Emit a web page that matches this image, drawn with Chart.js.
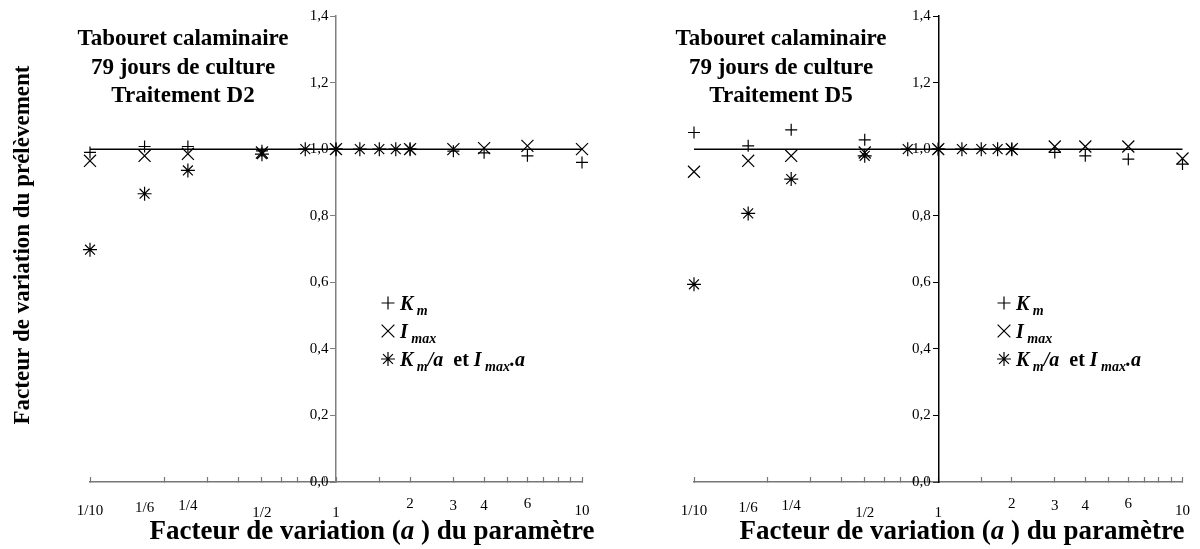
<!DOCTYPE html>
<html>
<head>
<meta charset="utf-8">
<script src="https://cdn.jsdelivr.net/npm/chart.js@4.4.1/dist/chart.umd.min.js"></script>
<style>
  body { margin: 0; background: #fff; }
  #wrap { position: relative; width: 1200px; height: 549px; overflow: hidden; }
  canvas { position: absolute; top: 0; }
</style>
</head>
<body>
<div id="wrap">
  <canvas id="left" width="640" height="549" style="left:0"></canvas>
  <canvas id="right" width="600" height="549" style="left:600px"></canvas>
</div>
<script>
// facteur a
const aMain = [0.1, 1/6, 1/4, 1/2, 1, 2, 3, 4, 6, 10];
const aStar = [0.1, 1/6, 1/4, 1/2, 3/4, 1, 1.25, 1.5, 1.75, 2];

// Traitement D2
const kmD2   = [0.99, 1.008, 1.008, 0.995, 1, 1, 0.994, 0.989, 0.98, 0.96];
const imaxD2 = [0.965, 0.98, 0.986, 0.99, 1, 1, 1.0, 1.003, 1.01, 1.0];
const starD2 = [0.698, 0.866, 0.936, 0.985, 1.0, 1, 1, 1, 1, 1];

// Traitement D5
const kmD5   = [1.05, 1.01, 1.058, 1.028, 1, 1, 0.99, 0.98, 0.97, 0.955];
const imaxD5 = [0.932, 0.965, 0.98, 0.99, 1, 1, 1.008, 1.008, 1.008, 0.972];
const starD5 = [0.594, 0.807, 0.91, 0.98, 1, 1, 1, 1, 1, 1];

// ligne de reference y = 1
const refA = [0.1, 10];
const refY = [1, 1];

// etiquettes de l'axe x
const xLabelVals = [0.1, 1/6, 1/4, 1/2, 1, 2, 3, 4, 6, 10];
const xLabelText = ['1/10', '1/6', '1/4', '1/2', '1', '2', '3', '4', '6', '10'];
const xLabelDrop = [7, 4, 2, 9, 9, 0, 2, 2, 0, 7];   // decalage vertical (px)

const F = '"Liberation Serif", "Times New Roman", serif';

const pts = (xs, ys) => xs.map((x, i) => ({ x: x, y: ys[i] }));
const labelIndex = v => xLabelVals.findIndex(t => Math.abs(t - v) < 1e-6);
const isExtra = v => Math.abs(v - 1/6) < 1e-6 || Math.abs(v - 0.25) < 1e-6;

function richText(ctx, parts, x, y, align) {
  let w = 0;
  parts.forEach(p => { ctx.font = p[1]; w += ctx.measureText(p[0]).width; });
  let cx = align === 'center' ? x - w / 2 : x;
  ctx.textAlign = 'left';
  ctx.textBaseline = 'alphabetic';
  parts.forEach(p => {
    ctx.font = p[1];
    ctx.fillText(p[0], cx, y + (p[2] || 0));
    cx += ctx.measureText(p[0]).width;
  });
}

function marker(ctx, style, r, x, y) {
  ctx.save();
  ctx.strokeStyle = '#000';
  ctx.lineWidth = 1.2;
  Chart.helpers.drawPoint(ctx, { pointStyle: style, radius: r, borderWidth: 1.2, rotation: 0 }, x, y);
  ctx.restore();
}

function notesPlugin(cfg) {
  return {
    id: 'notes',
    afterDraw(chart) {
      const ctx = chart.ctx;
      ctx.save();
      ctx.fillStyle = '#000';
      const tb = 'bold 23px ' + F;
      ['Tabouret calaminaire', '79 jours de culture', 'Traitement ' + cfg.treatment].forEach((t, i) => {
        richText(ctx, [[t, tb]], cfg.titleX, 45 + i * 28.5, 'center');
      });

      // legende
      const bi = 'italic bold 20px ' + F;
      const sub = 'italic bold 14px ' + F;
      const b = 'bold 20px ' + F;
      const lx = cfg.legX;
      marker(ctx, 'cross', 6.5, lx, 303);
      richText(ctx, [['K', bi], [' m', sub, 5]], lx + 12, 310);
      marker(ctx, 'crossRot', 9, lx, 331);
      richText(ctx, [['I', bi], [' max', sub, 5]], lx + 12, 338);
      marker(ctx, 'star', 7, lx, 359);
      richText(ctx, [['K', bi], [' m', sub, 5], ['/a', bi], ['  et ', b], ['I', bi], [' max', sub, 5], ['.a', bi]], lx + 12, 366);

      // titre de l'axe x
      const xt = 'bold 27px ' + F;
      const xti = 'italic bold 27px ' + F;
      richText(ctx, [['Facteur de variation (', xt], ['a', xti], [' ) du param\u00e8tre', xt]], cfg.xTitleX, 539, 'center');

      if (cfg.yTitle) {
        ctx.translate(21, 245);
        ctx.rotate(-Math.PI / 2);
        richText(ctx, [['Facteur de variation du pr\u00e9l\u00e8vement', 'bold 23px ' + F]], 0, 8, 'center');
      }
      ctx.restore();
    }
  };
}

function makePanel(id, km, imax, star, cfg) {
  return new Chart(document.getElementById(id), {
    type: 'scatter',
    data: {
      datasets: [
        { type: 'line', data: pts(refA, refY), borderColor: '#000', borderWidth: 1.5,
          pointRadius: 0, clip: false, order: 3 },
        { label: 'Km', data: pts(aMain, km), pointStyle: 'cross', pointRadius: 6,
          borderColor: '#000', borderWidth: 1.2, backgroundColor: 'transparent', clip: false },
        { label: 'Imax', data: pts(aMain, imax), pointStyle: 'crossRot', pointRadius: 8.5,
          borderColor: '#000', borderWidth: 1.2, backgroundColor: 'transparent', clip: false },
        { label: 'Km/a et Imax.a', data: pts(aStar, star), pointStyle: 'star', pointRadius: 7,
          borderColor: '#000', borderWidth: 1.2, backgroundColor: 'transparent', clip: false }
      ]
    },
    options: {
      responsive: false,
      animation: false,
      devicePixelRatio: 1,
      layout: { padding: { left: cfg.padLeft, right: cfg.padRight, top: 16, bottom: 0 } },
      plugins: { legend: { display: false }, tooltip: { enabled: false } },
      scales: {
        x: {
          type: 'logarithmic',
          position: 'bottom',
          min: 0.1,
          max: 10,
          afterFit: s => { s.height = 67; },
          afterBuildTicks: s => {
            const extra = [1/6, 1/4].map(v => ({ value: v }));
            s.ticks = s.ticks.concat(extra).sort((p, q) => p.value - q.value);
          },
          border: { color: '#777', width: 1.5 },
          grid: {
            drawOnChartArea: false,
            tickLength: -5,
            tickWidth: 1.2,
            tickColor: c => (c.tick && isExtra(c.tick.value)) ? 'rgba(0,0,0,0)' : '#777'
          },
          ticks: {
            autoSkip: false,
            maxRotation: 0,
            minRotation: 0,
            padding: 10,
            color: '#000',
            font: c => {
              const i = c.tick ? labelIndex(c.tick.value) : -1;
              const drop = i >= 0 ? xLabelDrop[i] : 0;
              return { family: F, size: 15, lineHeight: (34 + 2 * drop) + 'px' };
            },
            callback: v => {
              const i = labelIndex(v);
              return i >= 0 ? xLabelText[i] : '';
            }
          }
        },
        y: {
          type: 'linear',
          position: { x: 1 },
          min: 0,
          max: 1.4,
          border: { color: cfg.yColor, width: 1.5 },
          grid: { drawOnChartArea: false, tickLength: 5, color: cfg.yColor, tickColor: cfg.yColor },
          ticks: {
            stepSize: 0.2,
            color: '#000',
            font: { family: F, size: 15 },
            callback: v => v.toFixed(1).replace('.', ',') + '  '
          }
        }
      }
    },
    plugins: [notesPlugin(cfg)]
  });
}

makePanel('left', kmD2, imaxD2, starD2, {
  treatment: 'D2', padLeft: 90, padRight: 58, yColor: '#808080',
  titleX: 183, legX: 388, xTitleX: 372, yTitle: true
});
makePanel('right', kmD5, imaxD5, starD5, {
  treatment: 'D5', padLeft: 94, padRight: 12, yColor: '#000',
  titleX: 181, legX: 404, xTitleX: 362, yTitle: false
});
</script>
</body>
</html>
